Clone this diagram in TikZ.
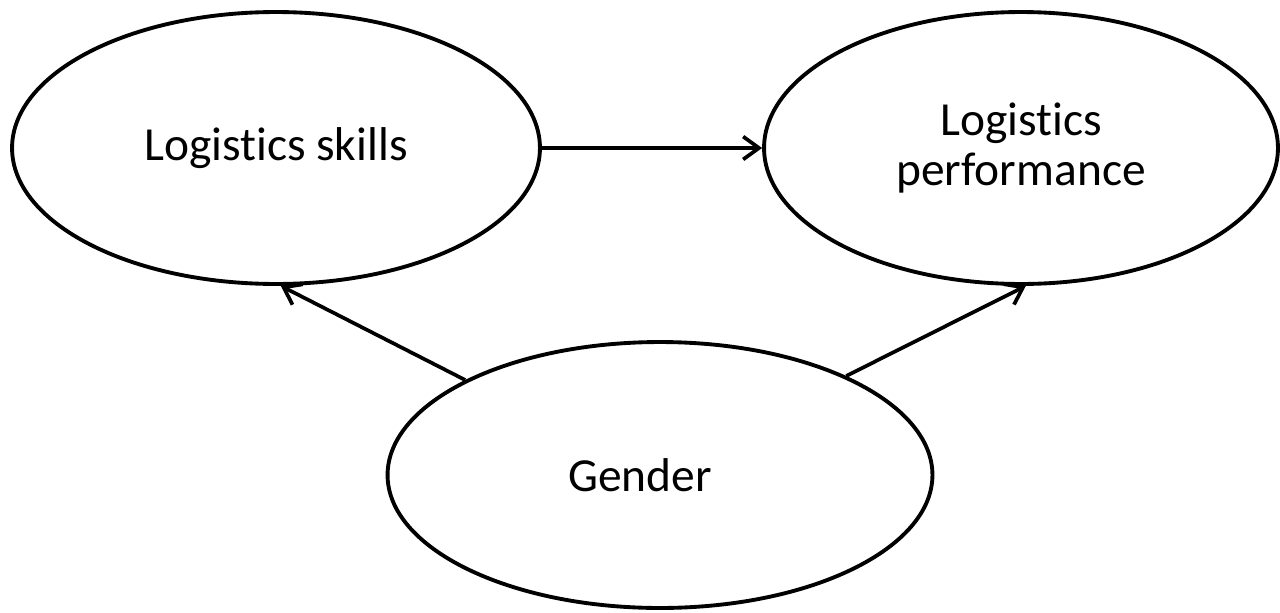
\documentclass[tikz,border=0pt]{standalone}
\usepackage{fontspec}
\setmainfont[Ligatures=NoCommon]{Carlito}
\usetikzlibrary{shapes.geometric,arrows.meta}

\begin{document}
\begin{tikzpicture}[x=0.02cm,y=-0.02cm]
\useasboundingbox (0,0) rectangle (1280,612);
\tikzset{var/.style={ellipse,draw,line width=2.2pt,inner sep=0pt,align=center,font=\fontsize{27}{28}\selectfont}}

\node[var,minimum width=10.56cm,minimum height=5.44cm] (S) at (276,148) {Logistics skills};
\node[var,minimum width=10.28cm,minimum height=5.44cm] (P) at (1021,148) {Logistics\\performance};
\node[var,minimum width=10.9cm,minimum height=5.32cm] (G) at (660,475) {Gender\hspace*{0.8cm}};

\path[->, >={Straight Barb[length=9pt,width=13pt]},line width=2.1pt] (S) edge (P);
\path[->, >={Straight Barb[length=9pt,width=13pt]},line width=2.1pt] (G.154) edge (S.272);
\path[->, >={Straight Barb[length=9pt,width=13pt]},line width=2.1pt] (G.28) edge (P.272);

\end{tikzpicture}
\end{document}
